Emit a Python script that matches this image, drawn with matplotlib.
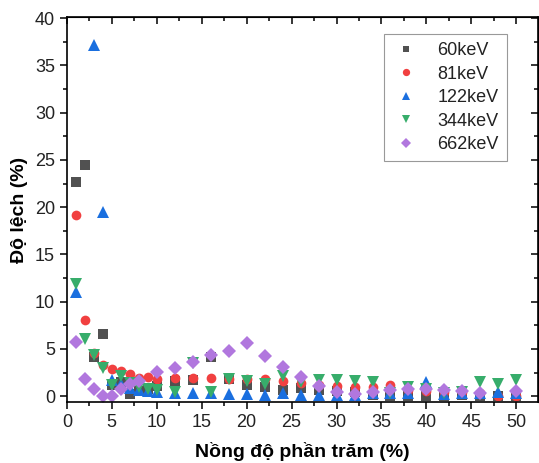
import numpy as np
import matplotlib
matplotlib.use('Agg')
import matplotlib.pyplot as plt
from matplotlib.ticker import MultipleLocator

plt.rcParams['font.family'] = ['Liberation Sans', 'DejaVu Sans']

# nồng độ (%)
conc = [1, 2, 3, 4, 5, 6, 7, 8, 9, 10, 12, 14, 16, 18, 20, 22, 24, 26, 28, 30,
        32, 34, 36, 38, 40, 42, 44, 46, 48, 50]

dev_60 = [22.7, 24.5, 4.1, 6.6, 1.2, 1.5, 0.2, 0.6, 0.8, 1.1, 1.6, 1.7, 4.1, 1.8,
          1.2, 1.0, 0.7, 0.9, 0.7, 0.5, 0.4, 0.1, 0.05, 0.05, 0.05, 0.05, 0.1,
          0.05, 0.0, 0.0]
dev_81 = [19.2, 8.1, 4.6, 3.3, 2.9, 2.7, 2.4, 1.9, 2.0, 1.8, 1.9, 1.9, 1.9, 1.8,
          1.8, 1.8, 1.6, 1.35, 1.2, 1.1, 0.95, 1.0, 1.2, 0.65, 0.6, 0.4, 0.4,
          0.36, 0.0, 0.05]
dev_122 = [11.0, np.nan, 37.2, 19.5, 1.7, 1.3, 0.85, 0.65, 0.55, 0.45, 0.35, 0.3,
           0.3, 0.2, 0.2, 0.15, 0.35, 0.1, 0.1, 0.1, 0.15, 0.3, 0.3, 0.36, 1.54,
           0.2, 0.3, 0.3, 0.45, 0.3]
dev_344 = [11.9, 6.1, 4.4, 3.0, 1.2, 2.1, 1.45, 1.0, 0.75, 0.65, 0.4, 3.5, 0.4,
           1.8, 1.65, 1.3, 2.1, 1.5, 1.7, 1.7, 1.6, 1.5, 0.35, 0.95, 0.8, 0.3,
           0.4, 1.55, 1.25, 1.7]
dev_662 = [5.7, 1.8, 0.8, 0.07, 0.07, 0.75, 1.25, 1.65, np.nan, 2.55, 2.95, 3.65,
           4.4, 4.8, 5.6, 4.3, 3.07, 2.05, 1.05, 0.45, 0.25, 0.46, 0.7, 0.75,
           0.75, 0.65, 0.5, 0.3, np.nan, 0.55]

series = [
    ('60keV', dev_60, 's', '#515151', 6.5),
    ('81keV', dev_81, 'o', '#F14040', 7.0),
    ('122keV', dev_122, '^', '#1A6FDF', 8.0),
    ('344keV', dev_344, 'v', '#37AD6B', 8.0),
    ('662keV', dev_662, 'D', '#B177DE', 6.8),
]

fig = plt.figure(figsize=(5.39, 4.63), dpi=100)
ax = fig.add_axes([0.124, 0.132, 0.874, 0.831])

for name, vals, mk, col, ms in series:
    ax.plot(conc, vals, ls='none', marker=mk, ms=ms, color=col,
            markeredgewidth=0, label=name)

ax.set_xlim(0, 52.4)
ax.set_ylim(-0.6, 40.1)
ax.xaxis.set_major_locator(MultipleLocator(5))
ax.xaxis.set_minor_locator(MultipleLocator(2.5))
ax.yaxis.set_major_locator(MultipleLocator(5))
ax.yaxis.set_minor_locator(MultipleLocator(2.5))

ax.tick_params(which='both', direction='out', labelsize=13, width=1.1,
               top=False, right=False, labelcolor='#222222')
ax.tick_params(which='major', length=5)
ax.tick_params(which='minor', length=3)
for sp in ax.spines.values():
    sp.set_linewidth(1.2)

# tick marks on top/right (inward, no labels)
sec_x = ax.secondary_xaxis('top')
sec_x.xaxis.set_major_locator(MultipleLocator(5))
sec_x.xaxis.set_minor_locator(MultipleLocator(2.5))
sec_x.tick_params(which='both', direction='in', labeltop=False, width=1.1)
sec_x.tick_params(which='major', length=5)
sec_x.tick_params(which='minor', length=3)
sec_y = ax.secondary_yaxis('right')
sec_y.yaxis.set_major_locator(MultipleLocator(5))
sec_y.yaxis.set_minor_locator(MultipleLocator(2.5))
sec_y.tick_params(which='both', direction='in', labelright=False, width=1.1)
sec_y.tick_params(which='major', length=5)
sec_y.tick_params(which='minor', length=3)

ax.set_xlabel('Nồng độ phần trăm (%)', fontsize=14, fontweight='bold', labelpad=8)
ax.set_ylabel('Độ lệch (%)', fontsize=14, fontweight='bold', labelpad=5)

leg = ax.legend(loc='upper right', bbox_to_anchor=(0.934, 0.956),
                borderaxespad=0, fontsize=13, fancybox=False, framealpha=1,
                edgecolor='#999999', handletextpad=1.0, labelspacing=0.36,
                borderpad=0.45, handlelength=1.5, markerscale=0.75)
leg.get_frame().set_linewidth(0.8)
for t in leg.get_texts():
    t.set_color('#222222')

plt.savefig('out.png', dpi=100)
